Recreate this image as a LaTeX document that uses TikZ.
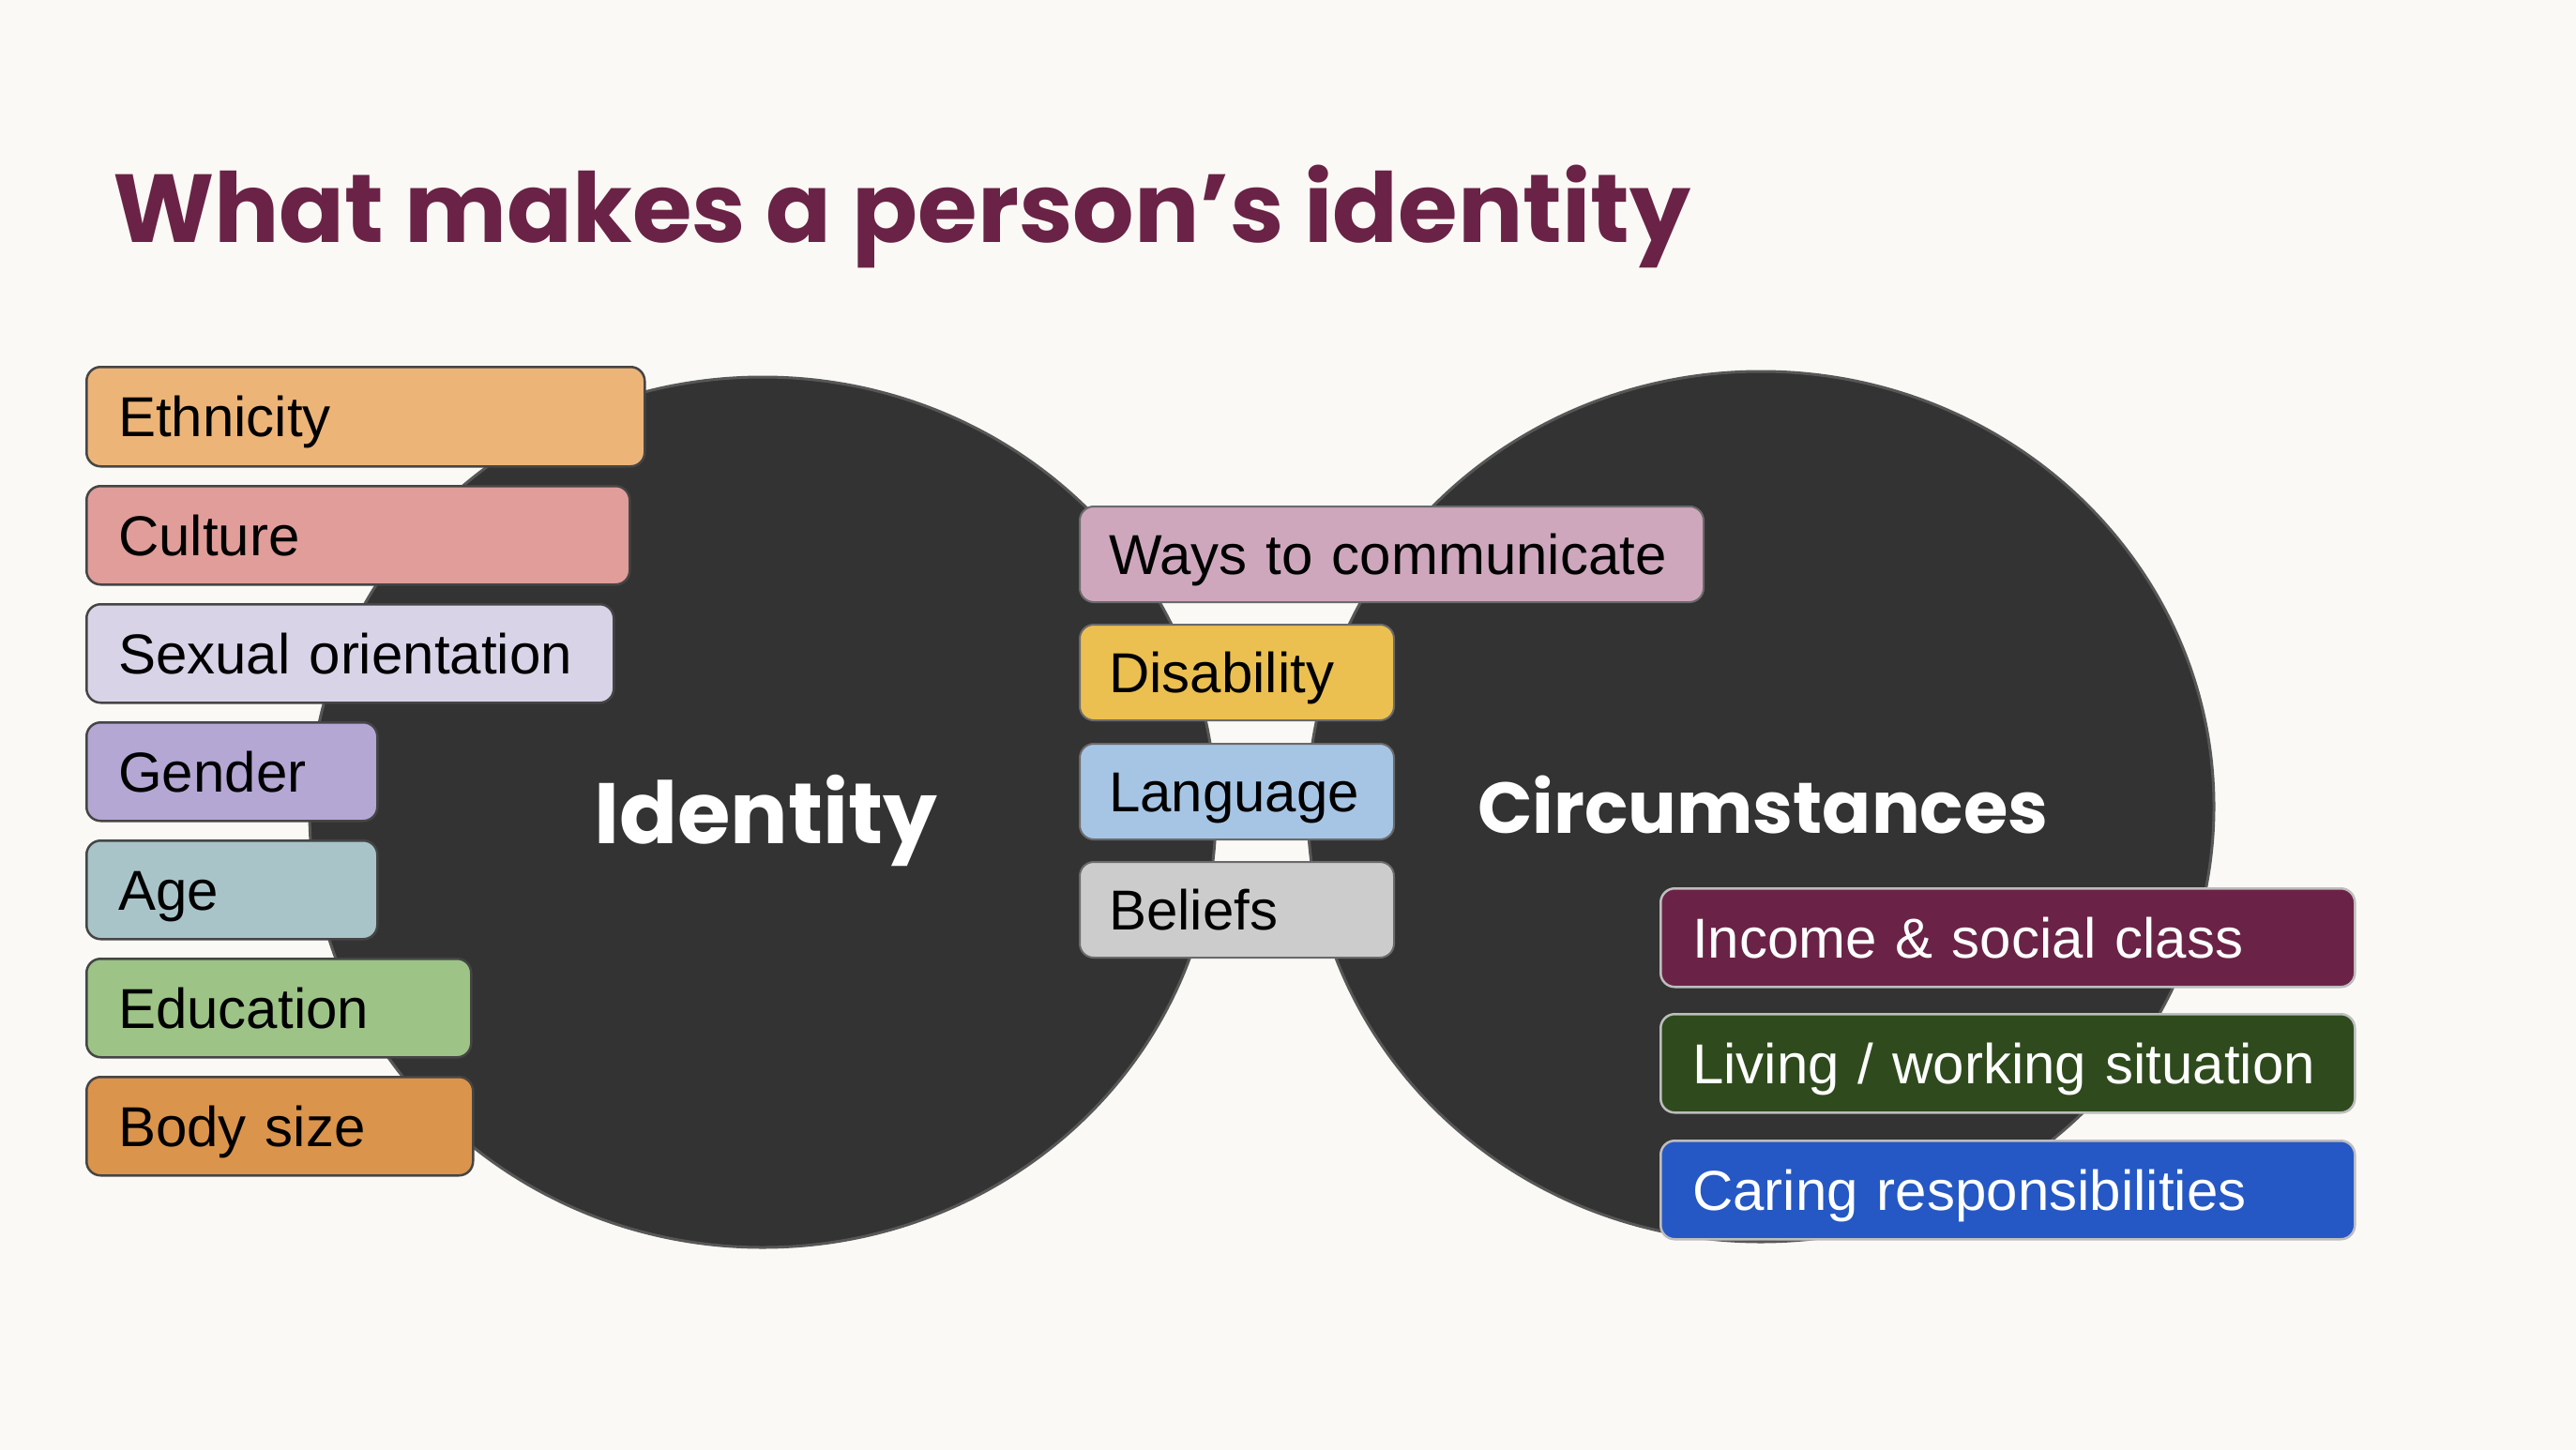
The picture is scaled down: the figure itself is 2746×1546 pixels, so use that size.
\documentclass[tikz,border=0pt]{standalone}
\usepackage{fontspec}
\usetikzlibrary{shapes.geometric}
\setmainfont{Liberation Sans}
\newfontfamily\popfont{Poppins}
\definecolor{bg}{HTML}{FAF9F5}
\definecolor{titlec}{HTML}{6A2346}
\definecolor{circ}{HTML}{333333}
\definecolor{circedge}{HTML}{575757}
\definecolor{edgedark}{HTML}{454545}
\definecolor{edgelight}{HTML}{BDBDBD}
\definecolor{cEth}{HTML}{EDB478}
\definecolor{cCul}{HTML}{E09D9A}
\definecolor{cSex}{HTML}{D9D3E8}
\definecolor{cGen}{HTML}{B4A7D4}
\definecolor{cAge}{HTML}{A9C4C9}
\definecolor{cEdu}{HTML}{9DC386}
\definecolor{cBod}{HTML}{DB944B}
\definecolor{cWay}{HTML}{CEA7BD}
\definecolor{cDis}{HTML}{EBC050}
\definecolor{cLan}{HTML}{A6C5E4}
\definecolor{cBel}{HTML}{CCCCCC}
\definecolor{cInc}{HTML}{6A2346}
\definecolor{cLiv}{HTML}{2F4B1D}
\definecolor{cCar}{HTML}{2558C5}
\newcommand{\tx}[1]{\hspace*{34pt}#1}
\tikzset{
  bigoval/.style={ellipse, fill=circ, draw=circedge, line width=3pt, minimum width=966pt, minimum height=928pt, inner sep=0pt},
  tagbox/.style={rounded corners=15pt, anchor=north west, inner xsep=0pt, inner ysep=0pt,
    text height=43pt, text depth=0pt, align=left,
    font=\fontsize{60}{70}\selectfont, line width=2.5pt},
  darktag/.style={tagbox, draw=edgedark, text=black},
  midtag/.style={tagbox, draw=edgedark!80, text=black, line width=2pt},
  lighttag/.style={tagbox, draw=edgelight, text=white},
  bigword/.style={anchor=base west, text=white, inner sep=0pt, font=\popfont\bfseries},
}
\begin{document}
\begin{tikzpicture}[x=1pt, y=-1pt]
\fill[bg] (0,0) rectangle (2746,1546);
\useasboundingbox (0,0) rectangle (2746,1546);

\node[anchor=base west, inner sep=0pt, text=titlec, font=\popfont\bfseries\fontsize{103}{110}\selectfont] (title) at (120,259) {What makes a person’s identity};

\node[bigoval] (cid) at (813,866) {};
\node[bigoval] (ccirc) at (1877,860) {};

\node[bigword, font=\popfont\bfseries\fontsize{91.5}{100}\selectfont] (lid) at (633,899) {Identity};
\node[bigword, font=\popfont\bfseries\fontsize{76.8}{90}\selectfont] (lcirc) at (1575,888) {Circumstances};

% left tags
\node[darktag, fill=cEth, text width=595pt, minimum height=106pt] (eth) at (91,390) {\tx{Ethnicity}};
\node[darktag, fill=cCul, text width=579pt, minimum height=105pt] (cul) at (91,517) {\tx{Culture}};
\node[darktag, fill=cSex, text width=562pt, minimum height=105pt] (sex) at (91,643) {\tx{Sexual orientation}};
\node[darktag, fill=cGen, text width=310pt, minimum height=105pt] (gen) at (91,769) {\tx{Gender}};
\node[darktag, fill=cAge, text width=310pt, minimum height=105pt] (age) at (91,895) {\tx{Age}};
\node[darktag, fill=cEdu, text width=410pt, minimum height=105pt] (edu) at (91,1021) {\tx{Education}};
\node[darktag, fill=cBod, text width=412pt, minimum height=105pt] (bod) at (91,1147) {\tx{Body size}};

% middle tags
\node[midtag, fill=cWay, text width=665pt, minimum height=102pt] (way) at (1150,539) {\hspace*{-3pt}\tx{Ways to communicate}};
\node[midtag, fill=cDis, text width=335pt, minimum height=102pt] (dis) at (1150,665) {\hspace*{-3pt}\tx{Disability}};
\node[midtag, fill=cLan, text width=335pt, minimum height=102pt] (lan) at (1150,792) {\hspace*{-3pt}\tx{Language}};
\node[midtag, fill=cBel, text width=335pt, minimum height=102pt] (bel) at (1150,918) {\hspace*{-3pt}\tx{Beliefs}};

% right tags
\node[lighttag, fill=cInc, text width=740pt, minimum height=105pt] (inc) at (1769,946) {\tx{Income \& social class}};
\node[lighttag, fill=cLiv, text width=740pt, minimum height=105pt] (liv) at (1769,1080) {\tx{Living / working situation}};
\node[lighttag, fill=cCar, text width=740pt, minimum height=105pt] (car) at (1769,1215) {\tx{Caring responsibilities}};
\end{tikzpicture}
\end{document}
